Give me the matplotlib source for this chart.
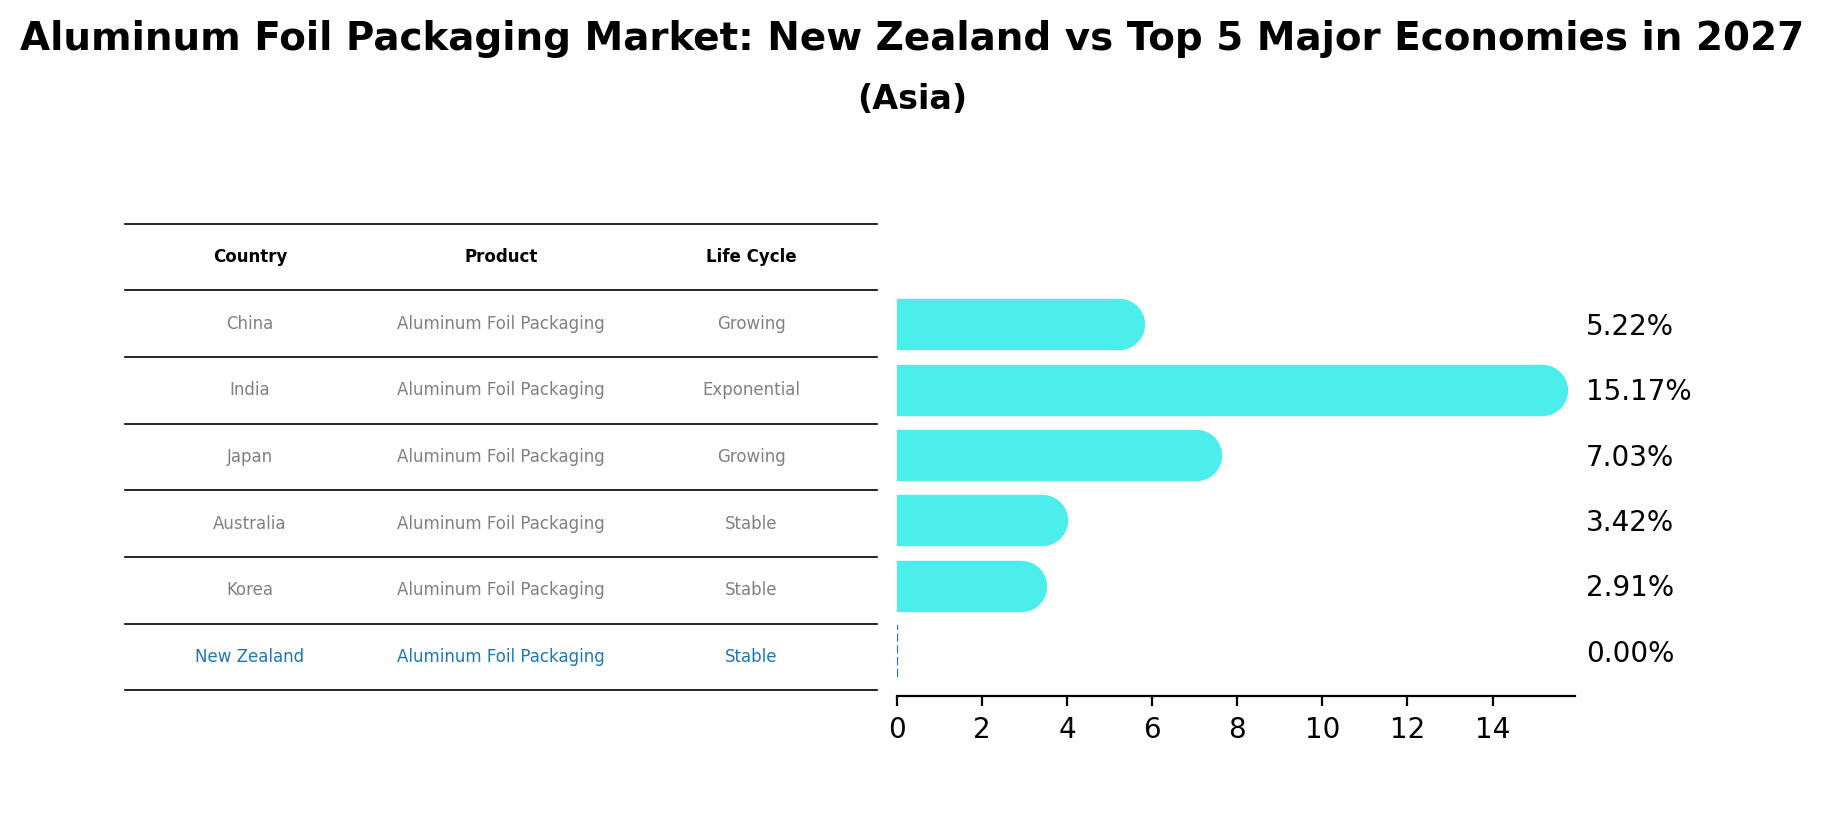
import matplotlib
matplotlib.use("Agg")
import matplotlib.pyplot as plt

# data
countries = ["China", "India", "Japan", "Australia", "Korea", "New Zealand"]
products = ["Aluminum Foil Packaging"] * 6
life_cycles = ["Growing", "Exponential", "Growing", "Stable", "Stable", "Stable"]
growth = [5.22, 15.17, 7.03, 3.42, 2.91, 0.00]
headers = ["Country", "Product", "Life Cycle"]
highlight = "New Zealand"

bar_color = "#4beeea"
hl_color = "#1f77b4"
cell_color = "#808080"

fig = plt.figure(figsize=(9.12, 4.115), dpi=200)

fig.text(0.5, 0.953, "Aluminum Foil Packaging Market: New Zealand vs Top 5 Major Economies in 2027",
         ha="center", va="center", fontsize=14, fontweight="bold")
fig.text(0.5, 0.879, "(Asia)", ha="center", va="center", fontsize=12, fontweight="bold")

# --- table on the left ---
tax = fig.add_axes([0.0683, 0.1612, 0.4125, 0.5672])
tax.set_xlim(0, 3)
n_rows = len(countries) + 1
tax.set_ylim(0, n_rows)
tax.axis("off")

for k in range(n_rows + 1):
    tax.axhline(k, color="black", lw=0.6, clip_on=False)

top = n_rows - 0.5
for j, h in enumerate(headers):
    tax.text(j + 0.5, top, h, ha="center", va="center", fontsize=6, fontweight="bold")

for i, row in enumerate(zip(countries, products, life_cycles)):
    y = top - 1 - i
    c = hl_color if row[0] == highlight else cell_color
    for j, val in enumerate(row):
        tax.text(j + 0.5, y, val, ha="center", va="center", fontsize=6, color=c)

# --- rounded bars on the right ---
ax = fig.add_axes([0.4917, 0.1542, 0.3716, 0.5063])
n = len(countries)
ypos = [n - 1 - i for i in range(n)]
for y, v, name in zip(ypos, growth, countries):
    if v > 0:
        ax.plot([0, v], [y, y], color=bar_color, lw=18.5, solid_capstyle="round")
    else:
        ax.plot([0, 0], [y - 0.4, y + 0.4], color=hl_color, lw=0.8, ls="--")
    ax.text(max(growth) * 1.067, y - 0.04, f"{v:.2f}%", ha="left", va="center", fontsize=10, clip_on=False)

ax.set_xlim(0, max(growth) * 1.05)
ax.set_ylim(-0.69, n - 1 + 0.69)
ax.set_xticks(range(0, 16, 2))
ax.tick_params(axis="x", labelsize=10)
ax.set_yticks([])
for s in ["top", "right", "left"]:
    ax.spines[s].set_visible(False)

fig.savefig("out.png", dpi=200)
